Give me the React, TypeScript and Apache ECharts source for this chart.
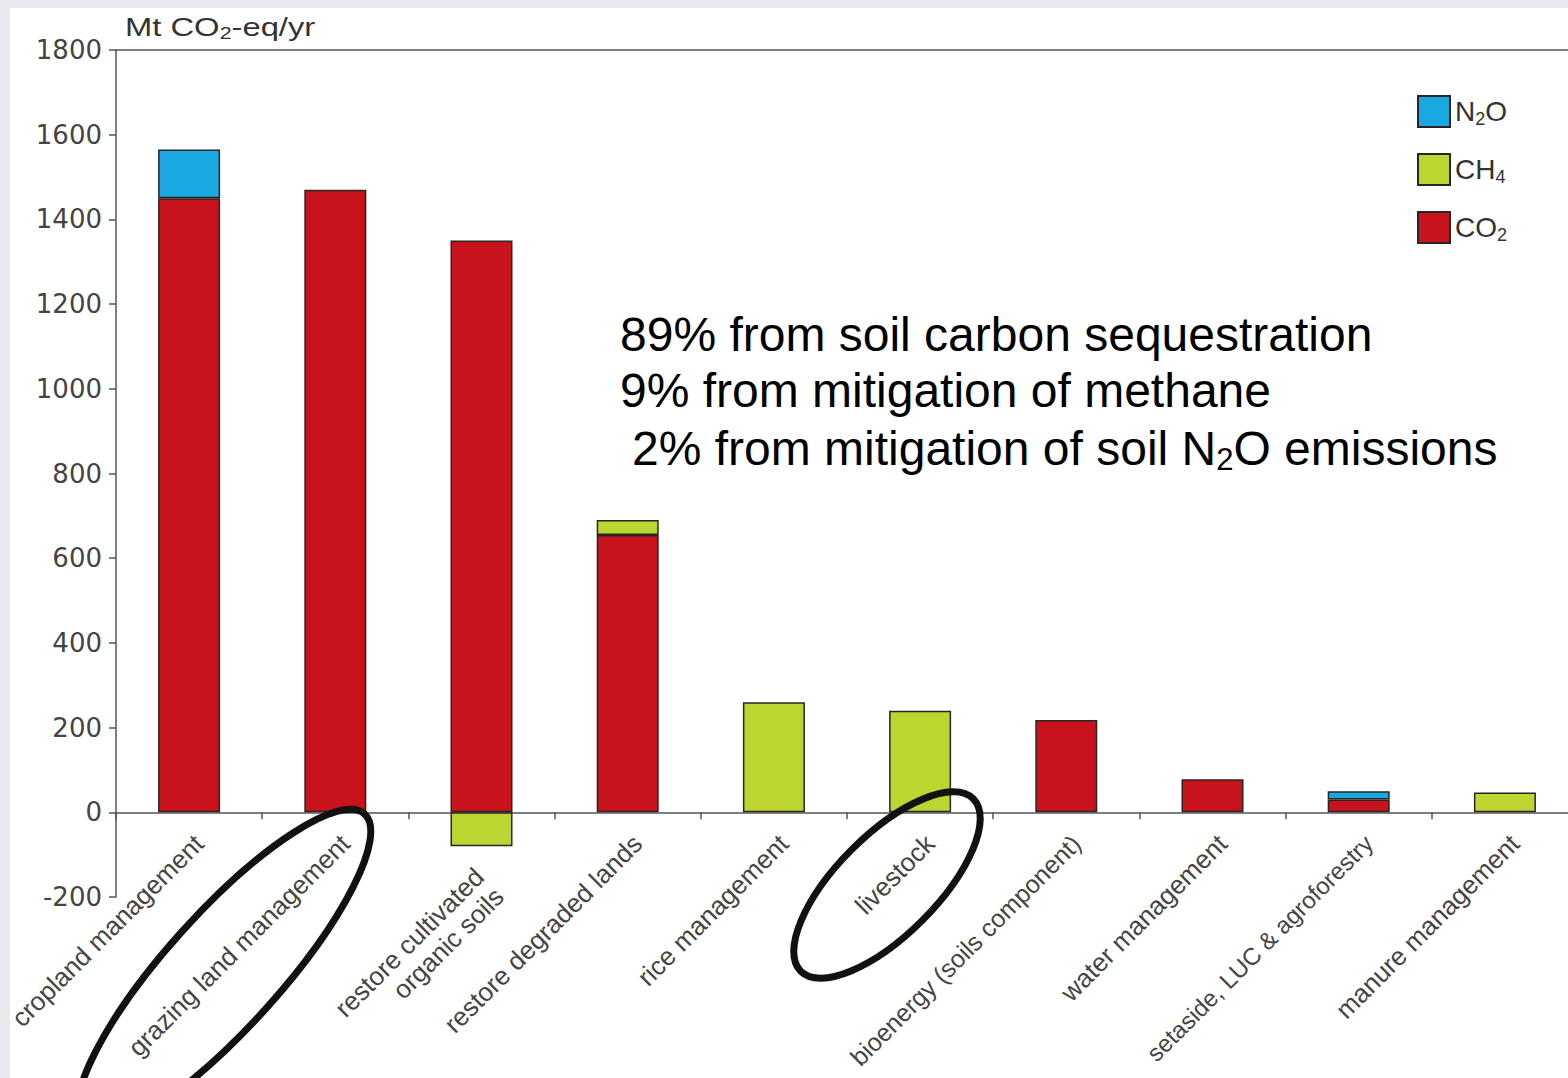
import React, { useEffect, useRef } from "react";
import * as echarts from "echarts";

const categories = [
  "cropland management",
  "grazing land management",
  "restore cultivated\norganic soils",
  "restore degraded lands",
  "rice management",
  "livestock",
  "bioenergy (soils component)",
  "water management",
  "setaside, LUC & agroforestry",
  "manure management",
];
const co2Values = [1450, 1470, 1350, 655, null, null, 218, 78, 30, null];
const ch4Values = [null, null, -80, 35, 260, 240, null, null, null, 47];
const n2oValues = [115, null, null, null, null, null, null, null, 20, null];
const yMin = -200;
const yMax = 1800;
const yStep = 200;

const annotationLines = [
  "89% from soil carbon sequestration",
  "9% from mitigation of methane",
];

const COLORS = { CO2: "#c8121c", CH4: "#bcd530", N2O: "#1aa8e2" };
const BORDER = "#2b2424";

export default function App() {
  const ref = useRef<HTMLDivElement>(null);
  useEffect(() => {
    if (!ref.current) return;
    const chart = echarts.init(ref.current, null, { renderer: "svg" });
    const labelFont = "Liberation Sans, Arial, sans-serif";
    const mkSeries = (name: string, data: (number | null)[]) => ({
      name,
      type: "bar",
      stack: "total",
      barWidth: 62,
      data,
      itemStyle: { color: (COLORS as any)[name], borderColor: BORDER, borderWidth: 1.5 },
    });
    const legendRich = {
      a: { fontSize: 28, color: "#333", fontFamily: labelFont },
      s: { fontSize: 18, color: "#333", fontFamily: labelFont, padding: [14, 0, 0, 0] },
    };
    const legendMap: Record<string, string> = {
      N2O: "{a|N}{s|2}{a|O}",
      CH4: "{a|CH}{s|4}",
      CO2: "{a|CO}{s|2}",
    };
    const baseLabel = {
      fontSize: 26,
      color: "#444",
      fontFamily: labelFont,
      lineHeight: 28,
      verticalAlign: "top",
      padding: [13, 13, 0, 0],
    };
    const xData = categories.map((c, i) => {
      if (c.indexOf("\n") >= 0) return { value: c, textStyle: { ...baseLabel, padding: [28, 45, 0, 0] } };
      if (i === 6) return { value: c, textStyle: { ...baseLabel, fontSize: 25 } };
      if (i === 8) return { value: c, textStyle: { ...baseLabel, fontSize: 24 } };
      return c;
    });
    chart.setOption({
      animation: false,
      backgroundColor: "#e7e9ee",
      grid: {
        left: 116,
        right: -10,
        top: 50,
        bottom: 181,
        containLabel: false,
        outerBoundsMode: "none",
      },
      legend: {
        orient: "vertical",
        left: 1412,
        top: 90,
        icon: "rect",
        itemWidth: 32,
        itemHeight: 31,
        itemGap: 25,
        data: ["N2O", "CH4", "CO2"],
        formatter: (n: string) => legendMap[n],
        textStyle: { rich: legendRich },
      },
      xAxis: [
        {
          type: "category",
          data: xData,
          axisLine: { onZero: true, lineStyle: { color: "#555", width: 1.5 } },
          axisTick: { show: true, length: 7, lineStyle: { color: "#555", width: 1.5 } },
          axisLabel: {
            interval: 0,
            rotate: 45,
            margin: -86,
            hideOverlap: false,
            ...baseLabel,
          },
        },
        {
          type: "category",
          data: categories,
          position: "top",
          axisLine: { onZero: false, lineStyle: { color: "#555", width: 1.5 } },
          axisTick: { show: false },
          axisLabel: { show: false },
        },
      ],
      yAxis: {
        type: "value",
        min: yMin,
        max: yMax,
        interval: yStep,
        axisLine: { show: true, onZero: false, lineStyle: { color: "#555", width: 1.5 } },
        axisTick: { show: true, length: 7, lineStyle: { color: "#555", width: 1.5 } },
        splitLine: { show: false },
        axisLabel: {
          fontSize: 26,
          color: "#444",
          fontFamily: "DejaVu Sans, sans-serif",
          margin: 14,
          formatter: (v: number) => String(v),
        },
      },
      series: [mkSeries("CO2", co2Values), mkSeries("CH4", ch4Values), mkSeries("N2O", n2oValues)],
      graphic: [
        { type: "rect", z: -10, shape: { x: 10, y: 8, width: 1560, height: 1080 }, style: { fill: "#fff" }, silent: true },
        {
          type: "text",
          x: 125,
          y: 27,
          scaleX: 1.26,
          style: {
            text: "{a|Mt CO}{s|2}{a|-eq/yr}",
            verticalAlign: "middle",
            rich: {
              a: { fontSize: 26, fill: "#333", fontFamily: labelFont },
              s: { fontSize: 17, fill: "#333", fontFamily: labelFont, padding: [13, 0, 0, 0] },
            } as any,
          },
        },
        {
          type: "text",
          x: 620,
          y: 334,
          style: { text: annotationLines[0], fontSize: 48, fontFamily: labelFont, fill: "#000", verticalAlign: "middle" },
        },
        {
          type: "text",
          x: 620,
          y: 390,
          style: { text: annotationLines[1], fontSize: 48, fontFamily: labelFont, fill: "#000", verticalAlign: "middle" },
        },
        {
          type: "text",
          x: 632,
          y: 448,
          style: {
            text: "{a|2% from mitigation of soil N}{s|2}{a|O emissions}",
            verticalAlign: "middle",
            rich: {
              a: { fontSize: 48, fill: "#000", fontFamily: labelFont },
              s: { fontSize: 31, fill: "#000", fontFamily: labelFont, padding: [22, 0, 0, 0] },
            } as any,
          },
        },
        {
          type: "ellipse",
          x: 224,
          y: 970,
          rotation: (48 * Math.PI) / 180,
          z: 100,
          shape: { cx: 0, cy: 0, rx: 210, ry: 57 },
          style: { fill: "none", stroke: "#111", lineWidth: 7 },
        },
        {
          type: "ellipse",
          x: 887,
          y: 885,
          rotation: Math.PI / 4,
          z: 100,
          shape: { cx: 0, cy: 0, rx: 122, ry: 50 },
          style: { fill: "none", stroke: "#111", lineWidth: 7 },
        },
      ],
    });
    return () => chart.dispose();
  }, []);
  return (
    <div
      ref={ref}
      style={{ position: "fixed", left: 0, top: 0, width: 1568, height: 1078, overflow: "hidden" }}
    />
  );
}
